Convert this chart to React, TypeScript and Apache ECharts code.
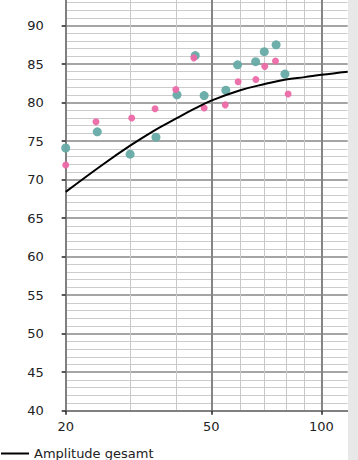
import React, { useEffect, useRef } from "react";
import * as echarts from "echarts";

// Teal scatter points
const tealX = [20, 24.4, 30, 35.3, 40.3, 45.2, 47.8, 54.8, 59, 66.1, 69.8, 75.2, 79.5];
const tealY = [74.1, 76.2, 73.3, 75.5, 81.0, 86.1, 80.9, 81.6, 84.9, 85.3, 86.6, 87.5, 83.7];
// Pink scatter points
const pinkX = [20, 24.2, 30.3, 35.1, 40, 44.8, 47.8, 54.6, 59.2, 66.2, 70, 74.9, 81.1];
const pinkY = [71.9, 77.5, 78.0, 79.2, 81.7, 85.8, 79.3, 79.7, 82.7, 83.0, 84.7, 85.4, 81.1];
// Curve "Amplitude gesamt"
const curveX = [20, 25, 30, 35, 40, 45, 50, 60, 70, 80, 90, 100, 118];
const curveY = [68.4, 71.8, 74.4, 76.4, 77.9, 79.2, 80.25, 81.6, 82.4, 83.0, 83.3, 83.6, 84.0];
// Axis ticks
const xMajorTicks = [20, 50, 100];
const xMinorTicks = [30, 40, 60, 70, 80, 90];
const yMin = 40;
const yMax = 95;
const yStep = 5;
const xMin = 20;
const xMax = 118;
const curveName = "Amplitude gesamt";

const FONT = "DejaVu Sans";
const SHIFT = 13; // chart div is pushed up so that the top of the plot is cut off

export default function App() {
  const ref = useRef<HTMLDivElement>(null);
  useEffect(() => {
    document.body.style.margin = "0";
    document.body.style.overflow = "hidden";
    const chart = echarts.init(ref.current!, null, { renderer: "svg" });
    const pair = (xs: number[], ys: number[]) => xs.map((x, i) => [x, ys[i]]);
    chart.setOption({
      animation: false,
      backgroundColor: "#ffffff",
      textStyle: { fontFamily: FONT },
      grid: {
        left: 65.7,
        right: 10.3,
        top: 0,
        bottom: 49.3,
        containLabel: false,
        outerBoundsMode: "none",
      },
      legend: {
        data: [curveName],
        left: 0,
        top: 447 + SHIFT,
        padding: 0,
        itemWidth: 28,
        itemHeight: 14,
        itemGap: 5,
        itemStyle: { color: "transparent", opacity: 0, borderWidth: 0 },
        lineStyle: { color: "#000", width: 2 },
        textStyle: { fontFamily: FONT, fontSize: 13, color: "#222" },
      },
      xAxis: [
        {
          type: "log",
          logBase: 10,
          min: xMin,
          max: xMax,
          position: "top",
          axisLine: { show: false },
          axisTick: { show: false, customValues: xMinorTicks },
          axisLabel: { show: false, customValues: xMinorTicks },
          splitLine: { show: true, lineStyle: { color: "#c9c9c9", width: 1 } },
        },
        {
          type: "log",
          logBase: 10,
          min: xMin,
          max: xMax,
          position: "bottom",
          axisLine: { show: true, onZero: false, lineStyle: { color: "#808080", width: 2 } },
          axisTick: { show: true, customValues: xMajorTicks, length: 4, lineStyle: { color: "#222", width: 1.5 } },
          axisLabel: {
            customValues: xMajorTicks,
            margin: 9,
            fontFamily: FONT,
            fontSize: 13,
            color: "#222",
          },
          splitLine: { show: true, lineStyle: { color: "#858585", width: 2 } },
        },
      ],
      yAxis: {
        type: "value",
        min: yMin,
        max: yMax,
        interval: yStep,
        axisLine: { show: true, onZero: false, lineStyle: { color: "#808080", width: 2 } },
        axisTick: { show: true, length: 4, lineStyle: { color: "#222", width: 1.5 } },
        axisLabel: { margin: 22, fontFamily: FONT, fontSize: 13, color: "#222", showMaxLabel: false },
        splitLine: { show: true, lineStyle: { color: "#878787", width: 1.5 } },
        minorTick: { show: false, splitNumber: 5 },
        minorSplitLine: { show: true, lineStyle: { color: "#cccccc", width: 1 } },
      },
      graphic: [
        {
          type: "rect",
          right: 0,
          top: 0,
          shape: { width: 10, height: 460 + SHIFT },
          style: { fill: "#e8e8e8" },
          z: 100,
        },
      ],
      series: [
        {
          name: "teal",
          type: "scatter",
          xAxisIndex: 1,
          clip: false,
          symbolSize: 9,
          itemStyle: { color: "#66aba8", opacity: 0.95 },
          data: pair(tealX, tealY),
          z: 3,
        },
        {
          name: "pink",
          type: "scatter",
          xAxisIndex: 1,
          clip: false,
          symbolSize: 7,
          itemStyle: { color: "#ec6aa7", opacity: 0.95 },
          data: pair(pinkX, pinkY),
          z: 4,
        },
        {
          name: curveName,
          type: "line",
          xAxisIndex: 1,
          smooth: 0.4,
          symbol: "none",
          lineStyle: { color: "#000000", width: 2 },
          itemStyle: { color: "#000000" },
          data: pair(curveX, curveY),
          z: 5,
        },
      ],
    });
    return () => chart.dispose();
  }, []);
  return <div ref={ref} style={{ width: 358, height: 460 + SHIFT, marginTop: -SHIFT }} />;
}
